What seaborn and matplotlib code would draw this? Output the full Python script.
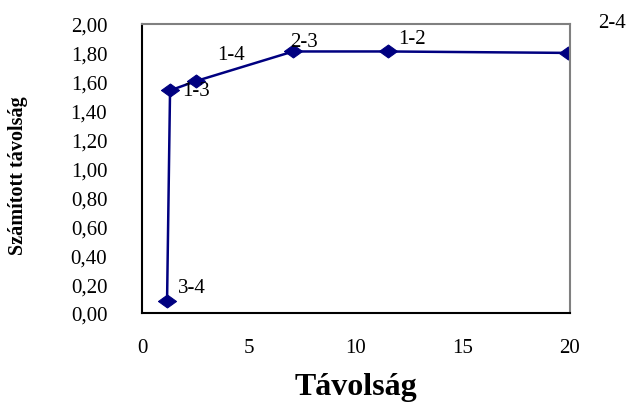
import matplotlib
matplotlib.use("Agg")
import matplotlib.pyplot as plt
import seaborn as sns
import pandas as pd

pairs = ["3-4", "1-3", "1-4", "2-3", "1-2", "2-4"]
tavolsag = [1.17, 1.31, 2.52, 7.06, 11.5, 19.9]
szamitott = [0.08, 1.54, 1.605, 1.81, 1.81, 1.80]
y_ticks = [0.0, 0.2, 0.4, 0.6, 0.8, 1.0, 1.2, 1.4, 1.6, 1.8, 2.0]
y_tick_labels = ["0,00", "0,20", "0,40", "0,60", "0,80", "1,00", "1,20", "1,40", "1,60", "1,80", "2,00"]
x_ticks = [0, 5, 10, 15, 20]

df = pd.DataFrame({"Távolság": tavolsag, "Számított távolság": szamitott, "pair": pairs})

sns.set_style("white")
plt.rcParams['font.family'] = ['Liberation Serif', 'DejaVu Serif']
plt.rcParams['text.color'] = 'black'
plt.rcParams['xtick.color'] = 'black'
plt.rcParams['ytick.color'] = 'black'
plt.rcParams['axes.labelcolor'] = 'black'

fig = plt.figure(figsize=(6.4, 4.06), dpi=100)
ax = fig.add_axes([0.2219, 0.2266, 0.6687, 0.7118])

navy = "#000080"
diamond = [(-1.0, 0.0), (0.0, 0.72), (1.0, 0.0), (0.0, -0.72), (-1.0, 0.0)]
sns.lineplot(data=df, x="Távolság", y="Számított távolság", ax=ax, sort=False,
             color=navy, linewidth=1.8, marker=diamond, markersize=13,
             markeredgecolor=navy, markerfacecolor=navy)

ax.set_xlim(0, 20)
ax.set_ylim(0, 2.0)
ax.set_xticks(x_ticks)
ax.set_xticklabels([str(v) for v in x_ticks], fontsize=15)
ax.set_yticks(y_ticks)
ax.set_yticklabels(y_tick_labels, fontsize=15)
ax.tick_params(axis="x", direction="inout", length=10, width=1, color="black", pad=13)
ax.tick_params(axis="y", direction="inout", length=16, width=1, color="black", pad=17)

for s in ["left", "bottom"]:
    ax.spines[s].set_color("black")
    ax.spines[s].set_linewidth(1.5)
for s in ["top", "right"]:
    ax.spines[s].set_color("#808080")
    ax.spines[s].set_linewidth(1.5)

ax.set_xlabel("Távolság", fontsize=23, fontweight="bold")
ax.set_ylabel("Számított távolság", fontsize=14.5, fontweight="bold")
ax.xaxis.set_label_coords(0.5, -0.205)
ax.yaxis.set_label_coords(-0.267, 0.48)

offsets = {"3-4": (8, 10), "1-3": (8.6, 0), "1-4": (15, 19), "2-3": (-2, 7),
           "1-2": (7, 9), "2-4": (22, 22)}
for p, xv, yv in zip(pairs, tavolsag, szamitott):
    dx, dy = offsets[p]
    ax.annotate(p, (xv, yv), xytext=(dx, dy), textcoords="offset points",
                fontsize=15, ha="left", va="center", annotation_clip=False)

fig.savefig("out.png", dpi=100)
